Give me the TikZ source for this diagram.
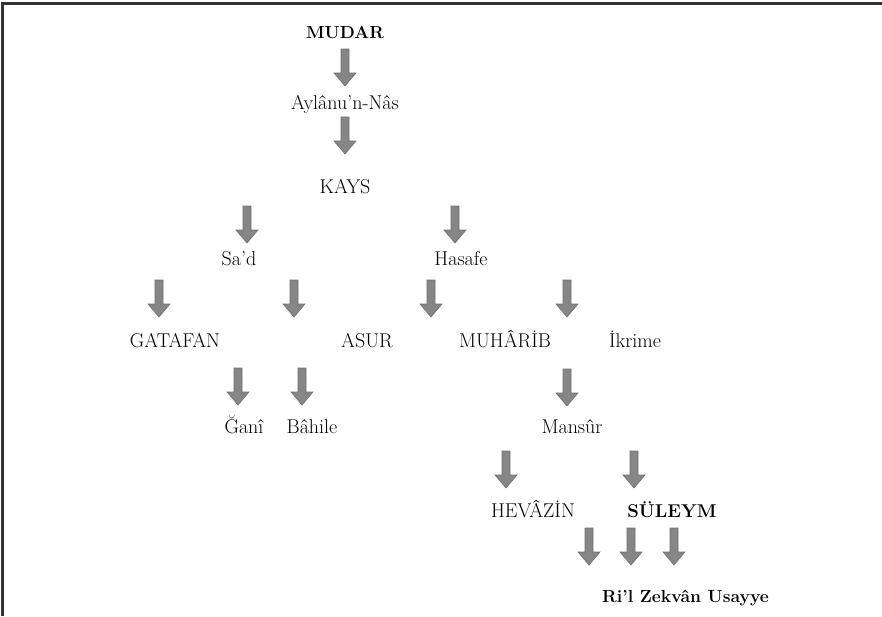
\documentclass[tikz,border=0pt]{standalone}
\usepackage{fontspec}
\definecolor{arrfill}{RGB}{134,134,134}
\definecolor{arredge}{RGB}{112,112,112}
\definecolor{frame}{RGB}{50,50,50}
\tikzset{
  lbl/.style={anchor=base, inner sep=0pt, font=\fontsize{20}{22}\selectfont},
  blbl/.style={lbl, font=\fontsize{17.5}{20}\selectfont\bfseries},
  downarrow/.pic={
    \fill[arrfill, draw=arredge, line width=0.6pt, line join=miter]
      (-4,0) -- (4,0) -- (4,24) -- (11,24) -- (0,37) -- (-11,24) -- (-4,24) -- cycle;
  }
}
\begin{document}
\begin{tikzpicture}[x=1pt, y=-1pt]
\useasboundingbox (0,0) rectangle (882,616);
\fill[white] (0,0) rectangle (882,616);
\draw[frame, line width=2.4pt] (2.5,616) -- (2.5,3.5) -- (882,3.5);

% text nodes
\node[blbl] (mudar) at (345,38) {MUDAR};
\node[lbl] (aylanu) at (345,109) {Aylânu’n-Nâs};
\node[lbl] (kays) at (345,193) {KAYS};
\node[lbl] (sad) at (239,265) {Sa’d};
\node[lbl] (hasafe) at (461,265) {Hasafe};
\node[lbl] (gatafan) at (175,347) {GATAFAN};
\node[lbl] (asur) at (367,347) {ASUR};
\node[lbl] (muharib) at (505,347) {MUHÂRİB};
\node[lbl] (ikrime) at (635,347) {İkrime};
\node[lbl] (gani) at (244,433) {Ğanî};
\node[lbl] (bahile) at (312,433) {Bâhile};
\node[lbl] (mansur) at (572,433) {Mansûr};
\node[lbl] (hevazin) at (533,517) {HEVÂZİN};
\node[blbl, font=\fontsize{18.5}{20}\selectfont\bfseries] (suleym) at (672,517) {SÜLEYM};
\node[blbl, anchor=base west] (ril) at (602,602) {Ri’l Zekvân Usayye};

% block arrows
\pic (a1) at (345,49) {downarrow};
\pic (a2) at (345,117) {downarrow};
\pic (a3) at (247,206) {downarrow};
\pic (a4) at (455,206) {downarrow};
\pic (a5) at (159,280) {downarrow};
\pic (a6) at (294,280) {downarrow};
\pic (a7) at (431,280) {downarrow};
\pic (a8) at (567,280) {downarrow};
\pic (a9) at (238,368) {downarrow};
\pic (a10) at (302,368) {downarrow};
\pic (a11) at (567,369) {downarrow};
\pic (a12) at (506,451) {downarrow};
\pic (a13) at (634,451) {downarrow};
\pic (a14) at (589,528) {downarrow};
\pic (a15) at (631,528) {downarrow};
\pic (a16) at (674,528) {downarrow};
\end{tikzpicture}
\end{document}
